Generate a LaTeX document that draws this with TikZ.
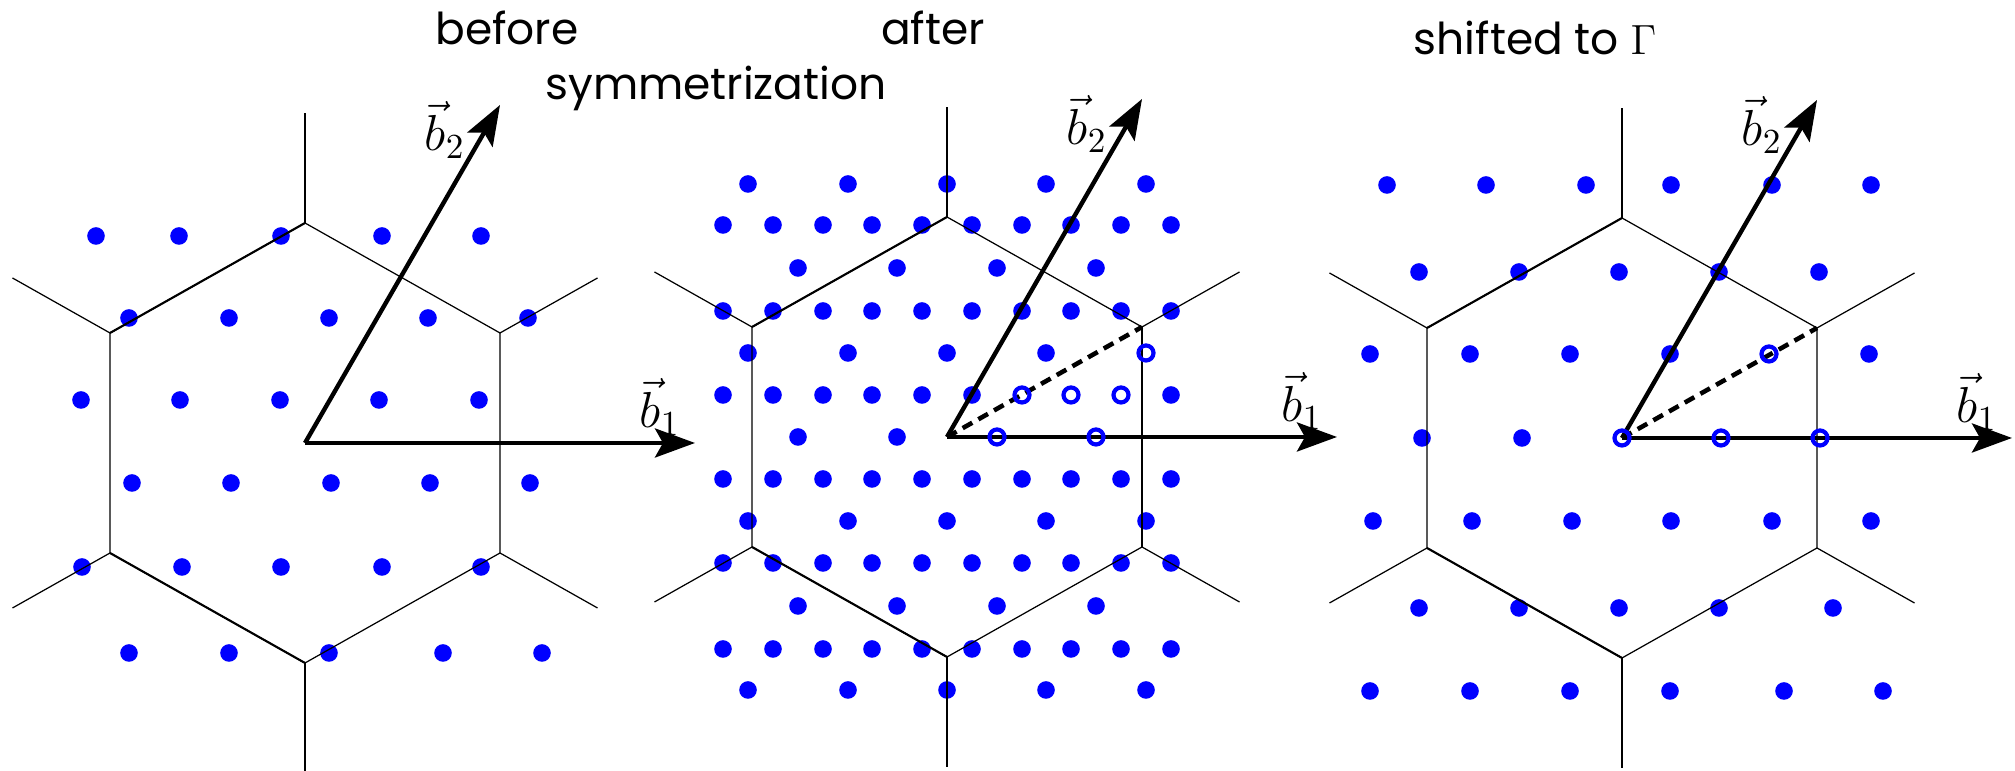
\documentclass[tikz,border=0pt]{standalone}
\usepackage{fontspec}
\newfontfamily\gothfont{Poppins}
\usetikzlibrary{arrows.meta}

\tikzset{
  kpt/.style={fill=blue},
  kirr/.style={draw=blue, line width=0.42mm},
  bvec/.style={line width=1.25pt, -{Stealth[length=4mm, width=2.9mm, inset=0.8mm]}},
  zone/.style={line width=0.35pt},
  zonethick/.style={line width=0.6pt},
  kpath/.style={line width=1.3pt, dash pattern=on 1.1mm off 0.7mm},
  lbl/.style={font=\fontsize{14}{16}\selectfont, inner sep=0pt},
  ttl/.style={font=\gothfont\fontsize{12.5}{15}\selectfont, anchor=base, inner sep=0pt},
}

\begin{document}
\begin{tikzpicture}[x=0.1mm, y=0.1mm]
  \useasboundingbox (0,0) rectangle (2015,771);

  % titles
  \node[ttl] (before) at (507,726) {before};
  \node[ttl] (after) at (933,726) {after};
  \node[ttl] (symm) at (716,671) {symmetrization};
  \node[ttl] (shifted) at (1535,716) {shifted to $\Gamma$};

  % k-points before symmetrization
  \begin{scope}[shift={(305,328)}]
    \foreach \yy/\xs in {207/{-209,-126,-24,77,176}, 125/{-176,-76,24,123,223},
                         43/{-224,-125,-25,74,174}, -40/{-173,-74,26,125,225},
                         -124/{-223,-123,-24,77,176}, -210/{-176,-76,24,138,237}}
      \foreach \xx in \xs
        \fill[kpt] (\xx,\yy) circle (0.88mm);
  \end{scope}

  % k-points after symmetrization
  \begin{scope}[shift={(947,334)}]
    \foreach \yy in {212,126,-42,-126,-212}
      \foreach \xx in {-224,-174,-124,-75,-25,25,75,124,174,224}
        \fill[kpt] (\xx,\yy) circle (0.88mm);
    \foreach \xx in {-224,-174,-124,-75,-25,25,224}
      \fill[kpt] (\xx,42) circle (0.88mm);
    \foreach \yy in {253,-84,-253}
      \foreach \xx in {-199,-99,0,99,199}
        \fill[kpt] (\xx,\yy) circle (0.88mm);
    \foreach \xx in {-199,-99,0,99}
      \fill[kpt] (\xx,84) circle (0.88mm);
    \foreach \yy in {169,-169}
      \foreach \xx in {-149,-50,50,149}
        \fill[kpt] (\xx,\yy) circle (0.88mm);
    \foreach \xx in {-149,-50}
      \fill[kpt] (\xx,0) circle (0.88mm);
  \end{scope}

  % k-points shifted to Gamma
  \begin{scope}[shift={(1622,333)}]
    \foreach \yy/\xs in {253/{-235,-136,-36,49,150,249}, 166/{-203,-103,-3,97,197},
                         84/{-252,-152,-52,48,247}, 0/{-200,-100},
                         -83/{-249,-150,-50,49,150,249}, -170/{-203,-103,-3,97,211},
                         -253/{-252,-152,-52,48,162,261}}
      \foreach \xx in \xs
        \fill[kpt] (\xx,\yy) circle (0.88mm);
  \end{scope}

  % Brillouin zones and reciprocal vectors
  \foreach \p/\cx/\cy in {1/305/328, 2/947/334, 3/1622/333}{
    \begin{scope}[shift={(\cx,\cy)}]
      \coordinate (G\p) at (0,0);
      \coordinate (K\p) at (195,110);
      \coordinate (tipa\p) at (390,0);
      \coordinate (tipb\p) at (195,338);
      \draw[zone] (0,220) -- (195,110) -- (195,-110) -- (0,-220) -- (-195,-110) -- (-195,110) -- cycle;
      \draw[zonethick] (-195,110) -- (0,220) (-195,-110) -- (0,-220);
      \foreach \vx/\vy in {0/220, 195/110, 195/-110, 0/-220, -195/-110, -195/110}
        \draw[zone] (\vx,\vy) -- (1.5*\vx,1.5*\vy);
      \draw[bvec] (G\p) -- (tipa\p);
      \draw[bvec] (G\p) -- (tipb\p);
      \node[lbl] (lba\p) at (355,36) {$\vec{b}_1$};
      \node[lbl] (lbb\p) at (140,313) {$\vec{b}_2$};
    \end{scope}
  }
  \draw[zonethick] (1142,224) -- (1142,444);
  \draw[kpath] (G2) -- (K2);
  \draw[kpath] (G3) -- (K3);

  % irreducible points
  \begin{scope}[shift={(947,334)}]
    \foreach \xx/\yy in {50/0, 149/0, 75/42, 124/42, 174/42, 199/84}
      \draw[kirr] (\xx,\yy) circle (0.75mm);
  \end{scope}
  \begin{scope}[shift={(1622,333)}]
    \foreach \xx/\yy in {0/0, 99/0, 198/0, 147/84}
      \draw[kirr] (\xx,\yy) circle (0.75mm);
  \end{scope}
\end{tikzpicture}
\end{document}
